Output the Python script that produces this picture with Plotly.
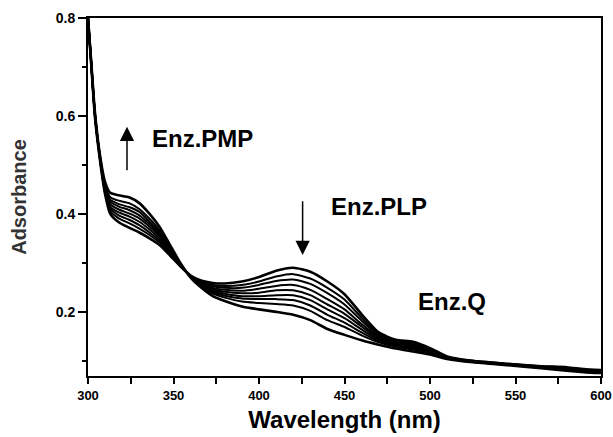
import plotly.graph_objects as go

wavelength = [300, 302, 304, 307, 310, 313, 318, 324, 330, 336, 342, 348, 354, 360, 366, 373,
              380, 390, 400, 410, 420, 430, 440, 450, 460, 470, 480, 490, 500, 510, 525, 545,
              565, 580, 590, 600]

spectrum_1 = [0.800, 0.700, 0.600, 0.510, 0.440, 0.400, 0.383, 0.372, 0.362, 0.350, 0.336, 0.315,
              0.293, 0.274, 0.264, 0.259, 0.258, 0.262, 0.271, 0.284, 0.290, 0.282, 0.262, 0.236,
              0.195, 0.158, 0.143, 0.139, 0.126, 0.109, 0.100, 0.094, 0.089, 0.087, 0.083, 0.081]
spectrum_2 = [0.800, 0.701, 0.601, 0.511, 0.444, 0.406, 0.391, 0.381, 0.370, 0.357, 0.341, 0.318,
              0.294, 0.273, 0.262, 0.255, 0.253, 0.255, 0.262, 0.272, 0.277, 0.268, 0.249, 0.225,
              0.188, 0.155, 0.141, 0.137, 0.124, 0.108, 0.100, 0.094, 0.089, 0.086, 0.082, 0.080]
spectrum_3 = [0.800, 0.701, 0.603, 0.513, 0.446, 0.411, 0.397, 0.388, 0.377, 0.362, 0.345, 0.320,
              0.295, 0.273, 0.260, 0.252, 0.249, 0.249, 0.255, 0.263, 0.266, 0.257, 0.238, 0.215,
              0.182, 0.152, 0.139, 0.134, 0.122, 0.108, 0.099, 0.093, 0.088, 0.085, 0.081, 0.079]
spectrum_4 = [0.800, 0.702, 0.604, 0.514, 0.449, 0.415, 0.403, 0.395, 0.384, 0.368, 0.349, 0.323,
              0.296, 0.272, 0.259, 0.249, 0.245, 0.243, 0.247, 0.253, 0.255, 0.245, 0.226, 0.205,
              0.175, 0.149, 0.137, 0.131, 0.121, 0.107, 0.099, 0.093, 0.088, 0.084, 0.081, 0.079]
spectrum_5 = [0.800, 0.702, 0.605, 0.515, 0.452, 0.420, 0.409, 0.401, 0.391, 0.374, 0.354, 0.325,
              0.296, 0.272, 0.257, 0.246, 0.241, 0.238, 0.239, 0.244, 0.244, 0.234, 0.215, 0.196,
              0.170, 0.146, 0.135, 0.129, 0.120, 0.107, 0.099, 0.093, 0.087, 0.083, 0.080, 0.078]
spectrum_6 = [0.800, 0.703, 0.606, 0.516, 0.455, 0.425, 0.415, 0.408, 0.397, 0.379, 0.357, 0.327,
              0.297, 0.272, 0.256, 0.243, 0.237, 0.232, 0.232, 0.234, 0.234, 0.224, 0.205, 0.187,
              0.164, 0.143, 0.133, 0.127, 0.119, 0.106, 0.098, 0.092, 0.087, 0.082, 0.079, 0.077]
spectrum_7 = [0.800, 0.703, 0.607, 0.517, 0.457, 0.429, 0.420, 0.414, 0.404, 0.384, 0.362, 0.330,
              0.298, 0.271, 0.254, 0.240, 0.233, 0.227, 0.226, 0.226, 0.224, 0.213, 0.194, 0.178,
              0.158, 0.140, 0.131, 0.125, 0.117, 0.106, 0.098, 0.092, 0.086, 0.082, 0.079, 0.077]
spectrum_8 = [0.800, 0.704, 0.608, 0.518, 0.460, 0.434, 0.427, 0.422, 0.410, 0.390, 0.366, 0.332,
              0.299, 0.271, 0.253, 0.237, 0.229, 0.221, 0.218, 0.216, 0.213, 0.202, 0.183, 0.169,
              0.152, 0.138, 0.129, 0.123, 0.116, 0.105, 0.098, 0.092, 0.086, 0.081, 0.078, 0.076]
spectrum_9 = [0.800, 0.705, 0.610, 0.520, 0.465, 0.443, 0.438, 0.434, 0.422, 0.400, 0.373, 0.336,
              0.300, 0.270, 0.250, 0.232, 0.222, 0.211, 0.205, 0.200, 0.194, 0.183, 0.165, 0.153,
              0.142, 0.133, 0.125, 0.119, 0.113, 0.104, 0.097, 0.091, 0.085, 0.080, 0.077, 0.075]

spectra = [spectrum_1, spectrum_2, spectrum_3, spectrum_4, spectrum_5,
           spectrum_6, spectrum_7, spectrum_8, spectrum_9]

x_ticks = [300, 350, 400, 450, 500, 550, 600]
y_ticks = [0.2, 0.4, 0.6, 0.8]

FONT = "Arial, Liberation Sans, sans-serif"

fig = go.Figure()
for i, s in enumerate(spectra):
    w = 2.6 if i in (0, len(spectra) - 1) else 2.0
    fig.add_trace(go.Scatter(x=wavelength, y=s, mode="lines",
                             line=dict(color="black", width=w, shape="spline", smoothing=0.6),
                             showlegend=False, hoverinfo="skip"))

# arrows
fig.add_annotation(x=322.8, y=0.578, ax=322.8, ay=0.486, xref="x", yref="y", axref="x", ayref="y",
                   text="", showarrow=True, arrowhead=2, arrowsize=1.9, arrowwidth=1.5, arrowcolor="black")
fig.add_annotation(x=425.5, y=0.316, ax=425.5, ay=0.429, xref="x", yref="y", axref="x", ayref="y",
                   text="", showarrow=True, arrowhead=2, arrowsize=1.9, arrowwidth=1.5, arrowcolor="black")

# labels
for txt, xx, yy in [("Enz.PMP", 336.5, 0.553), ("Enz.PLP", 441.0, 0.416), ("Enz.Q", 492.0, 0.222)]:
    fig.add_annotation(x=xx, y=yy, xref="x", yref="y", text=txt, showarrow=False,
                       xanchor="left", yanchor="middle",
                       font=dict(family=FONT, size=24, color="black", weight="bold"))

fig.update_layout(
    width=613, height=437,
    margin=dict(l=88, r=12, t=18, b=61),
    paper_bgcolor="white", plot_bgcolor="white",
    font=dict(family=FONT, color="black"),
)
fig.update_xaxes(
    range=[300, 600], tickvals=x_ticks, ticktext=[str(v) for v in x_ticks],
    tickfont=dict(family=FONT, size=13, color="black", weight="bold"),
    ticklabeloverflow="allow",
    ticks="outside", ticklen=6, tickwidth=1.5, tickcolor="black",
    minor=dict(dtick=25, tick0=300, ticks="outside", ticklen=6, tickwidth=1.5, tickcolor="black"),
    showline=True, linewidth=2, linecolor="black", mirror=True,
    showgrid=False, zeroline=False, automargin=False,
    title=dict(text="Wavelength (nm)", font=dict(family=FONT, size=24, color="black", weight="bold"),
               standoff=10),
)
fig.update_yaxes(
    range=[0.069, 0.8], tickvals=y_ticks, ticktext=["%.1f" % v for v in y_ticks],
    tickfont=dict(family=FONT, size=14, color="black", weight="bold"),
    ticklabeloverflow="allow",
    ticks="outside", ticklen=8, tickwidth=1.5, tickcolor="black",
    minor=dict(tickvals=[0.1, 0.3, 0.5, 0.7], ticks="outside", ticklen=4, tickwidth=1.5, tickcolor="black"),
    showline=True, linewidth=2, linecolor="black", mirror=True,
    showgrid=False, zeroline=False, automargin=False,
    title=dict(text="Adsorbance", font=dict(family=FONT, size=20, color="#333333", weight="bold"),
               standoff=24),
)

fig.write_html("out.html", config={"displayModeBar": False},
               post_script="document.body.style.margin='0px';document.body.style.overflow='hidden';")
